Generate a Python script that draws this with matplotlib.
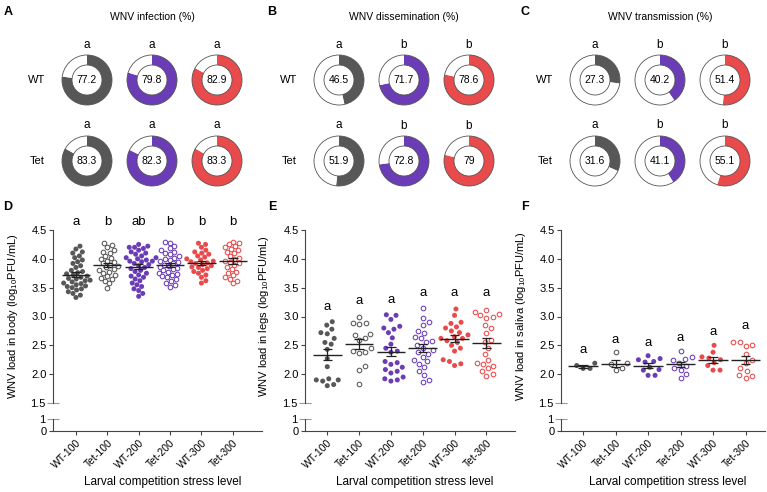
import numpy as np
import matplotlib
matplotlib.use('Agg')
import matplotlib.pyplot as plt
from matplotlib.patches import Circle

plt.rcParams['font.family'] = ['Liberation Sans', 'DejaVu Sans']
plt.rcParams['mathtext.default'] = 'regular'

W, H = 767, 492

# ---- donut data (%) ----
inf_wt = [77.2, 79.8, 82.9]
inf_tet = [83.3, 82.3, 83.3]
inf_letters = ['a', 'a', 'a']
dis_wt = [46.5, 71.7, 78.6]
dis_tet = [51.9, 72.8, 79]
dis_letters = ['a', 'b', 'b']
tra_wt = [27.3, 40.2, 51.4]
tra_tet = [31.6, 41.1, 55.1]
tra_letters = ['a', 'b', 'b']

# ---- viral load data (log10 PFU/mL) ----
categories = ['WT-100', 'Tet-100', 'WT-200', 'Tet-200', 'WT-300', 'Tet-300']

body_wt100 = [4.22, 4.17, 4.12, 4.10, 4.05, 4.02, 3.98, 3.95, 3.92, 3.88, 3.85, 3.80,
              3.78, 3.76, 3.74, 3.72, 3.70, 3.68, 3.66, 3.65, 3.63, 3.62, 3.60, 3.58,
              3.57, 3.55, 3.53, 3.52, 3.50, 3.48, 3.46, 3.43, 3.40, 3.37, 3.33]
body_tet100 = [4.27, 4.24, 4.20, 4.15, 4.12, 4.10, 4.05, 4.02, 4.00, 3.97, 3.95, 3.92,
               3.90, 3.87, 3.85, 3.82, 3.80, 3.78, 3.75, 3.72, 3.70, 3.67, 3.65, 3.62,
               3.58, 3.50]
body_wt200 = [4.25, 4.22, 4.20, 4.20, 4.18, 4.15, 4.12, 4.10, 4.08, 4.05, 4.02, 4.02,
              4.00, 3.98, 3.96, 3.96, 3.95, 3.92, 3.90, 3.88, 3.85, 3.83, 3.80, 3.78,
              3.75, 3.72, 3.70, 3.68, 3.65, 3.62, 3.58, 3.55, 3.52, 3.48, 3.45, 3.40, 3.35]
body_tet200 = [4.30, 4.27, 4.22, 4.18, 4.15, 4.12, 4.10, 4.08, 4.05, 4.02, 4.00, 3.98,
               3.96, 3.94, 3.92, 3.90, 3.88, 3.86, 3.84, 3.82, 3.80, 3.78, 3.76, 3.74,
               3.72, 3.70, 3.68, 3.65, 3.62, 3.58, 3.55, 3.52]
body_wt300 = [4.27, 4.25, 4.20, 4.15, 4.12, 4.10, 4.08, 4.05, 4.03, 4.00, 3.98, 3.96,
              3.95, 3.93, 3.92, 3.90, 3.88, 3.86, 3.85, 3.83, 3.80, 3.78, 3.75, 3.72,
              3.68, 3.62, 3.58]
body_tet300 = [4.30, 4.28, 4.25, 4.22, 4.20, 4.17, 4.15, 4.12, 4.10, 4.05, 4.02, 4.00,
               3.97, 3.95, 3.92, 3.90, 3.85, 3.82, 3.78, 3.75, 3.72, 3.68, 3.65, 3.62, 3.58]
body_letters = ['a', 'b', 'ab', 'b', 'b', 'b']
body_letter_y = [4.59, 4.59, 4.59, 4.59, 4.59, 4.59]

legs_wt100 = [2.91, 2.85, 2.78, 2.72, 2.70, 2.62, 2.55, 2.52, 2.43, 2.27, 2.13, 1.92,
              1.90, 1.90, 1.88, 1.82, 1.80]
legs_tet100 = [3.00, 2.88, 2.88, 2.87, 2.70, 2.68, 2.62, 2.60, 2.45, 2.40, 2.38, 2.36,
               2.14, 2.08, 1.83]
legs_wt200 = [3.03, 3.02, 2.95, 2.83, 2.80, 2.78, 2.72, 2.63, 2.52, 2.45, 2.40, 2.38,
              2.22, 2.20, 2.17, 2.12, 2.08, 2.05, 2.02, 1.95, 1.92, 1.90, 1.88]
legs_tet200 = [3.15, 2.98, 2.90, 2.85, 2.75, 2.72, 2.65, 2.62, 2.58, 2.55, 2.50, 2.45,
               2.42, 2.38, 2.35, 2.30, 2.25, 2.22, 2.18, 2.12, 2.05, 1.98, 1.90, 1.87]
legs_wt300 = [3.13, 3.02, 2.90, 2.88, 2.82, 2.80, 2.75, 2.72, 2.68, 2.65, 2.62, 2.62,
              2.58, 2.55, 2.50, 2.45, 2.40, 2.25, 2.22, 2.18, 2.15]
legs_tet300 = [3.12, 3.08, 3.05, 3.02, 3.00, 2.98, 2.85, 2.80, 2.72, 2.60, 2.55, 2.45,
               2.35, 2.25, 2.20, 2.18, 2.15, 2.10, 2.05, 2.00, 1.97]
legs_letters = ['a', 'a', 'a', 'a', 'a', 'a']
legs_letter_y = [3.11, 3.21, 3.23, 3.36, 3.36, 3.35]

saliva_wt100 = [2.10, 2.15, 2.19, 2.10]
saliva_tet100 = [2.38, 2.19, 2.17, 2.10, 2.08]
saliva_wt200 = [2.32, 2.27, 2.25, 2.22, 2.21, 2.12, 2.08, 2.07, 1.98, 1.98]
saliva_tet200 = [2.40, 2.30, 2.27, 2.25, 2.20, 2.15, 2.10, 2.08, 2.00, 1.93]
saliva_wt300 = [2.50, 2.38, 2.30, 2.28, 2.25, 2.20, 2.15, 2.07, 2.07]
saliva_tet300 = [2.56, 2.55, 2.50, 2.48, 2.35, 2.25, 2.20, 2.10, 2.05, 1.98, 1.97, 1.93]
saliva_letters = ['a', 'a', 'a', 'a', 'a', 'a']
saliva_letter_y = [2.37, 2.54, 2.49, 2.57, 2.68, 2.78]

body = [body_wt100, body_tet100, body_wt200, body_tet200, body_wt300, body_tet300]
legs = [legs_wt100, legs_tet100, legs_wt200, legs_tet200, legs_wt300, legs_tet300]
saliva = [saliva_wt100, saliva_tet100, saliva_wt200, saliva_tet200, saliva_wt300, saliva_tet300]

GRAY = '#575757'
PURPLE = '#6a3cb6'
RED = '#e94a4b'
donut_colors = [GRAY, PURPLE, RED]
group_colors = [GRAY, GRAY, PURPLE, PURPLE, RED, RED]
AX_COLOR = '#444444'


def fpos(x, y):
    # pixel coords (top-left origin) -> figure fraction
    return x / W, 1 - y / H


def px_axes(x0, y0, x1, y1):
    return fig.add_axes([x0 / W, 1 - y1 / H, (x1 - x0) / W, (y1 - y0) / H])


def swarm(yv, sx, sy, d):
    # simple beeswarm: offsets in data units so markers don't overlap much
    yv = np.asarray(yv, dtype=float)
    xs = np.zeros(len(yv))
    placed = []
    for i in np.argsort(yv):
        ypx = yv[i] * sy
        cands = [0.0]
        for px, py in placed:
            dy = ypx - py
            if abs(dy) < d:
                dx = np.sqrt(d * d - dy * dy)
                cands += [px + dx, px - dx]
        cands.sort(key=abs)
        for c in cands:
            if all((c - px) ** 2 + (ypx - py) ** 2 >= d * d - 1e-6 for px, py in placed):
                xs[i] = c
                break
        placed.append((xs[i], ypx))
    return xs / sx


fig = plt.figure(figsize=(W / 100, H / 100), dpi=100)

# panel letters
for lab, (x, y) in zip('ABCDEF', [(8, 12), (272, 12), (525, 12), (8, 207), (272, 207), (525, 207)]):
    fig.text(*fpos(x, y), lab, fontsize=9, fontweight='bold', ha='center', va='center')

# ---- donut panels ----
donut_panels = [
    ('WNV infection (%)', inf_wt, inf_tet, inf_letters, 87),
    ('WNV dissemination (%)', dis_wt, dis_tet, dis_letters, 339),
    ('WNV transmission (%)', tra_wt, tra_tet, tra_letters, 595),
]
R = 25
col_gap = 65
row_y = [80, 161]
for title, wt, tet, letters, x0 in donut_panels:
    fig.text(*fpos(x0 + col_gap, 17), title, ha='center', va='center', fontsize=7.5)
    for r, (rowname, vals) in enumerate([('WT', wt), ('Tet', tet)]):
        cy = row_y[r]
        fig.text(*fpos(x0 - 50, cy), rowname, ha='center', va='center', fontsize=8)
        for c, v in enumerate(vals):
            cx = x0 + c * col_gap
            s = R * 1.1
            ax = fig.add_axes([(cx - s) / W, 1 - (cy + s) / H, 2 * s / W, 2 * s / H])
            ax.pie([v, 100 - v], colors=[donut_colors[c], 'white'], startangle=90,
                   counterclock=False, radius=1,
                   wedgeprops=dict(width=0.4, edgecolor='none'))
            ax.add_patch(Circle((0, 0), 1, fill=False, lw=0.6, ec='#555555'))
            ax.add_patch(Circle((0, 0), 0.6, fill=False, lw=0.6, ec='#555555'))
            ax.text(0, 0, f'{v:g}', ha='center', va='center', fontsize=7.5)
            ax.text(0, 1.3, letters[c], ha='center', va='baseline', fontsize=8.5)
            ax.set_xlim(-1.1, 1.1)
            ax.set_ylim(-1.1, 1.1)
            ax.set_aspect('equal')
            ax.axis('off')

# ---- viral load panels ----
scatter_panels = [
    (body, body_letters, body_letter_y, 'WNV load in body (log$_{10}$PFU/mL)', 53, 262, (-0.73, 5.93), 5.0),
    (legs, legs_letters, legs_letter_y, 'WNV load in legs (log$_{10}$PFU/mL)', 305, 515, (-0.70, 5.90), 6.5),
    (saliva, saliva_letters, saliva_letter_y, 'WNV load in saliva (log$_{10}$PFU/mL)', 561, 765, (-0.68, 5.60), 7.0),
]
Y_TOP, Y_15, Y_1, Y_0 = 230, 403, 419, 431
for data, letters, ly, ylabel, xl, xr, xlim, dsw in scatter_panels:
    ax = px_axes(xl, Y_TOP, xr, Y_15)
    axb = px_axes(xl, Y_1, xr, Y_0)
    sx = (xr - xl) / (xlim[1] - xlim[0])
    sy = (Y_15 - Y_TOP) / 3.0
    for i, vals in enumerate(data):
        offs = swarm(vals, sx, sy, dsw)
        col = group_colors[i]
        if i % 2 == 0:
            ax.scatter(i + offs, vals, s=13, color=col, edgecolors='none', zorder=2)
        else:
            ax.scatter(i + offs, vals, s=11, facecolors='white', edgecolors=col,
                       linewidths=0.75, zorder=2)
        m = np.mean(vals)
        sem = np.std(vals, ddof=1) / np.sqrt(len(vals))
        ax.hlines(m, i - 0.45, i + 0.45, color='#222222', lw=1.0, zorder=3)
        ax.vlines(i, m - sem, m + sem, color='#222222', lw=0.9, zorder=3)
        ax.hlines([m - sem, m + sem], i - 0.15, i + 0.15, color='#222222', lw=0.9, zorder=3)
        ax.text(i, ly[i], letters[i], ha='center', va='baseline', fontsize=9.5)

    for a in (ax, axb):
        a.set_xlim(*xlim)
        a.spines['top'].set_visible(False)
        a.spines['right'].set_visible(False)
        for sp in a.spines.values():
            sp.set_color(AX_COLOR)
            sp.set_linewidth(0.8)
        a.tick_params(axis='y', labelsize=8, length=3, width=0.8, color=AX_COLOR, pad=1.5)
        a.tick_params(axis='y', which='minor', direction='inout', length=8, width=0.8,
                      color='#999999', labelsize=8, pad=1.5)

    ax.spines['bottom'].set_visible(False)
    ax.set_xticks([])
    ax.set_ylim(1.5, 4.5)
    ax.set_yticks([2.0, 2.5, 3.0, 3.5, 4.0, 4.5])
    ax.set_yticklabels(['2.0', '2.5', '3.0', '3.5', '4.0', '4.5'])
    ax.set_yticks([1.5], ['1.5'], minor=True)
    ax.set_ylabel(ylabel, fontsize=8)
    ax.yaxis.set_label_coords(-0.16, 0.5)

    axb.set_ylim(0, 1)
    axb.set_yticks([0])
    axb.set_yticklabels(['0'])
    axb.set_yticks([1], ['1'], minor=True)
    axb.set_xticks(range(len(categories)))
    axb.set_xticklabels(categories, rotation=45, ha='right', rotation_mode='anchor', fontsize=7.5)
    axb.tick_params(axis='x', length=3, width=0.8, color=AX_COLOR, pad=2)

    fig.text(*fpos((xl + xr) / 2 + 5, 482), 'Larval competition stress level',
             ha='center', va='center', fontsize=8.5)

fig.savefig('out.png', dpi=100)
